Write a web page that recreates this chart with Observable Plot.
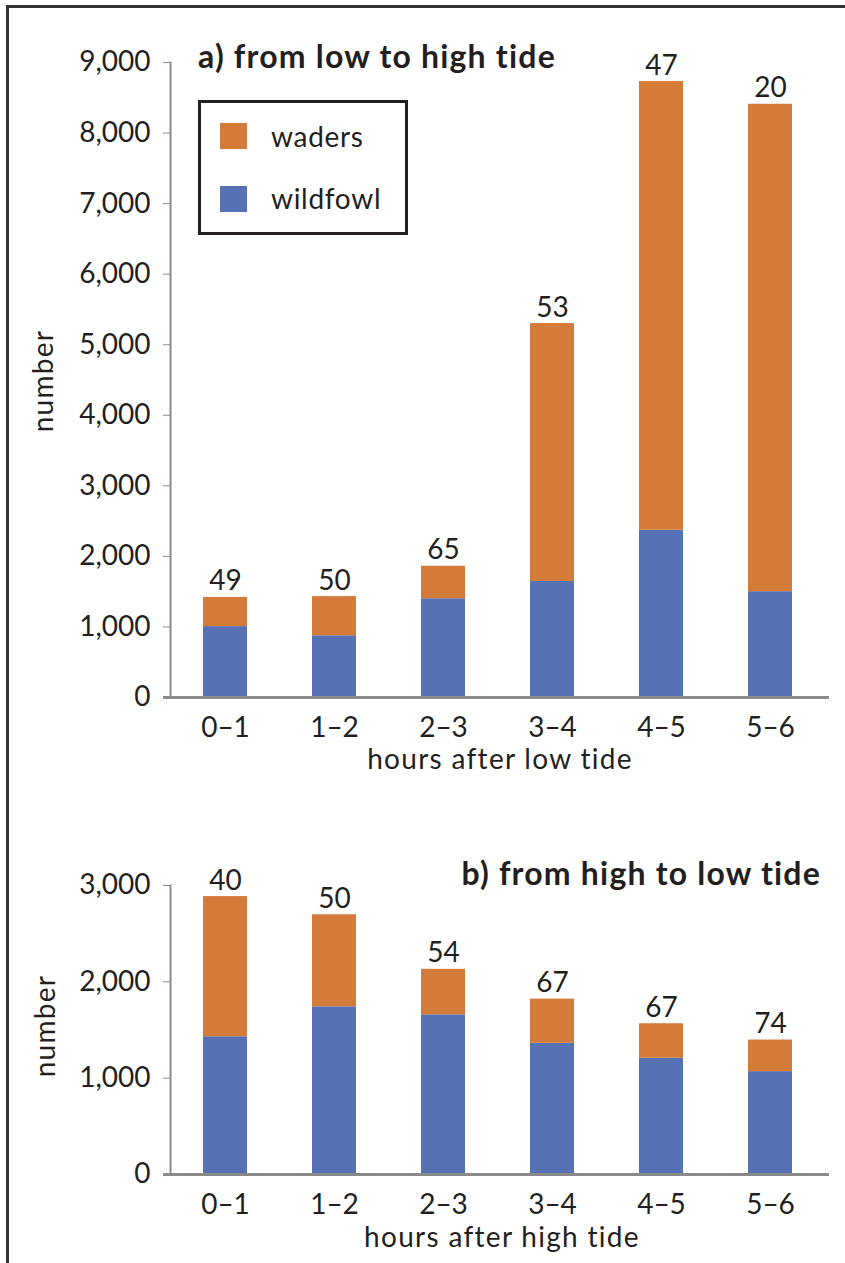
<!DOCTYPE html>
<html>
<head>
<meta charset="utf-8">
<script src="https://cdn.jsdelivr.net/npm/d3@7"></script>
<script src="https://cdn.jsdelivr.net/npm/@observablehq/plot@0.6"></script>
<style>
  html, body { margin: 0; padding: 0; background: #fff; }
  body { width: 845px; height: 1263px; position: relative; overflow: hidden; font-family: Lato, "Open Sans", sans-serif; color: #231f20; }
  .frame { position: absolute; left: 6px; top: 5px; width: 900px; height: 1400px; border-top: 3px solid #333; border-left: 3px solid #333; }
  .abs { position: absolute; line-height: 1; white-space: nowrap; }
  .title { font-weight: bold; font-size: 32px; letter-spacing: 1.2px; }
  .lbl { font-size: 28px; letter-spacing: 0.7px; }
  .axt { font-size: 28px; letter-spacing: 1.3px; line-height: 0.8; }
  .legend { position: absolute; left: 198px; top: 100px; width: 204px; height: 129px; border: 3px solid #231f20; }
  .sw { position: absolute; width: 27px; height: 26px; }
  #a, #b { position: absolute; left: 0; }
  #a { top: 0; }
  #b { top: 820px; }
</style>
</head>
<body>
<div class="frame"></div>
<div id="a"></div>
<div id="b"></div>
<div class="abs title" style="left:198px; top:40px;">a) from low to high tide</div>
<div class="abs title" style="right:24px; top:857px;">b) from high to low tide</div>
<div class="legend">
  <div class="sw" style="left:19px; top:20px; background:#D57B3A;"></div>
  <div class="abs lbl" style="left:70px; top:19px;">waders</div>
  <div class="sw" style="left:19px; top:83px; background:#5771B5;"></div>
  <div class="abs lbl" style="left:70px; top:81px;">wildfowl</div>
</div>
<div class="abs axt" style="left:42px; top:381px; transform: translate(-50%,-50%) rotate(-90deg);">number</div>
<div class="abs axt" style="left:44px; top:1026px; transform: translate(-50%,-50%) rotate(-90deg);">number</div>
<div class="abs axt" style="left:500px; top:758px; transform: translate(-50%,-50%);">hours after low tide</div>
<div class="abs axt" style="left:502px; top:1236px; transform: translate(-50%,-50%);">hours after high tide</div>
<script>
const hours = ["0–1", "1–2", "2–3", "3–4", "4–5", "5–6"];
const seriesNames = ["waders", "wildfowl"];
const seriesColors = ["#D57B3A", "#5771B5"];

// a) from low to high tide
const wildfowlA = [1005, 875, 1400, 1645, 2370, 1500];
const wadersA = [413, 555, 460, 3655, 6360, 6908];
const countsA = [49, 50, 65, 53, 47, 20];
const ticksA = [0, 1000, 2000, 3000, 4000, 5000, 6000, 7000, 8000, 9000];

// b) from high to low tide
const wildfowlB = [1430, 1741, 1658, 1362, 1207, 1068];
const wadersB = [1455, 955, 472, 458, 358, 328];
const countsB = [40, 50, 54, 67, 67, 74];
const ticksB = [0, 1000, 2000, 3000];

function rowsOf(wild, wad) {
  const rows = [];
  hours.forEach((h, i) => {
    rows.push({hour: h, type: "wildfowl", value: wild[i]});
    rows.push({hour: h, type: "waders", value: wad[i]});
  });
  return rows;
}
function totalsOf(wild, wad, counts) {
  return hours.map((h, i) => ({hour: h, total: wild[i] + wad[i], n: counts[i]}));
}

function chart({wild, wad, counts, ticks, yMax, height, marginTop, marginBottom}) {
  return Plot.plot({
    width: 845,
    height,
    marginLeft: 170,
    marginRight: 20,
    marginTop,
    marginBottom,
    style: {fontFamily: "Lato, 'Open Sans', sans-serif", fontSize: "28px", color: "#231f20", background: "transparent", overflow: "visible"},
    x: {domain: hours, paddingInner: 0.6, paddingOuter: 0.3, label: null},
    y: {domain: [0, yMax], label: null},
    color: {domain: seriesNames, range: seriesColors},
    marks: [
      Plot.barY(rowsOf(wild, wad), {x: "hour", y: "value", fill: "type", order: ["wildfowl", "waders"]}),
      Plot.frame({anchor: "left", stroke: "#8a8a8a", strokeWidth: 2}),
      Plot.ruleY([0], {stroke: "#8a8a8a", strokeWidth: 3, insetLeft: -7, insetRight: -4}),
      Plot.axisY({ticks, tickSize: 7, tickPadding: 13, stroke: "#8a8a8a", fill: "#231f20", tickFormat: d => d3.format(",")(d), label: null}),
      Plot.axisX({tickSize: 0, tickPadding: 20, fill: "#231f20", label: null}),
      Plot.text(totalsOf(wild, wad, counts), {x: "hour", y: "total", text: "n", lineAnchor: "bottom", dy: -7, fill: "#231f20"})
    ]
  });
}

document.getElementById("a").append(chart({wild: wildfowlA, wad: wadersA, counts: countsA, ticks: ticksA, yMax: 9000, height: 800, marginTop: 62, marginBottom: 103}));
document.getElementById("b").append(chart({wild: wildfowlB, wad: wadersB, counts: countsB, ticks: ticksB, yMax: 3000, height: 443, marginTop: 65, marginBottom: 89}));
</script>
</body>
</html>
